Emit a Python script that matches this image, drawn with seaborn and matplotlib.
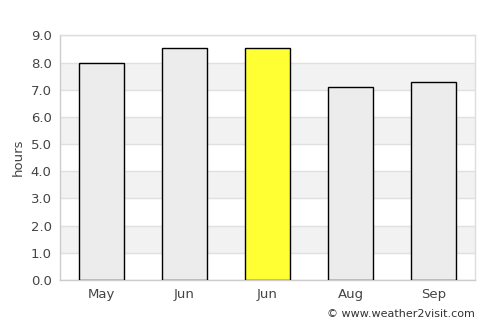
import matplotlib
matplotlib.use("Agg")
import matplotlib.pyplot as plt
import seaborn as sns
import pandas as pd

months = ["May", "Jun", "Jun", "Aug", "Sep"]
hours = [8.0, 8.55, 8.55, 7.1, 7.3]
colors = ["#ececec", "#ececec", "#ffff33", "#ececec", "#ececec"]
yticks = [0.0, 1.0, 2.0, 3.0, 4.0, 5.0, 6.0, 7.0, 8.0, 9.0]

sns.set_theme(style="white")
plt.rcParams['font.family'] = ['DejaVu Sans']

fig = plt.figure(figsize=(5, 3.25), dpi=100)
ax = fig.add_axes([0.12, 0.1385, 0.83, 0.7525])

df = pd.DataFrame({"pos": [str(i) for i in range(len(months))], "hours": hours})
sns.barplot(data=df, x="pos", y="hours", hue="pos", palette=colors, legend=False,
            saturation=1, width=0.55, edgecolor="black", linewidth=1.0, ax=ax, zorder=3)

# alternating bands
for i in range(len(yticks) - 1):
    if i % 2 == 1:
        ax.axhspan(yticks[i], yticks[i + 1], color="#f2f2f2", zorder=0, lw=0)
for y in yticks:
    ax.axhline(y, color="#e0e0e0", lw=1, zorder=1)

ax.set_ylim(0, 9)
ax.set_xlim(-0.5, len(months) - 0.5)
ax.set_yticks(yticks)
ax.set_yticklabels([f"{v:.1f}" for v in yticks], color="#444444", fontsize=9.5)
ax.set_xticks(range(len(months)))
ax.set_xticklabels(months, color="#444444", fontsize=9.5)
ax.tick_params(axis="both", length=0, pad=6)
ax.set_xlabel("")
ax.set_ylabel("hours", color="#444444", fontsize=9.5, labelpad=4)
for s in ax.spines.values():
    s.set_color("#dddddd")
    s.set_linewidth(1)
ax.spines["left"].set_color("#cccccc")
ax.spines["bottom"].set_color("#cccccc")

fig.text(0.95, 0.035, "© www.weather2visit.com", ha="right", va="center",
         fontsize=8, color="#333333")

fig.savefig("out.png", dpi=100, facecolor="white")
